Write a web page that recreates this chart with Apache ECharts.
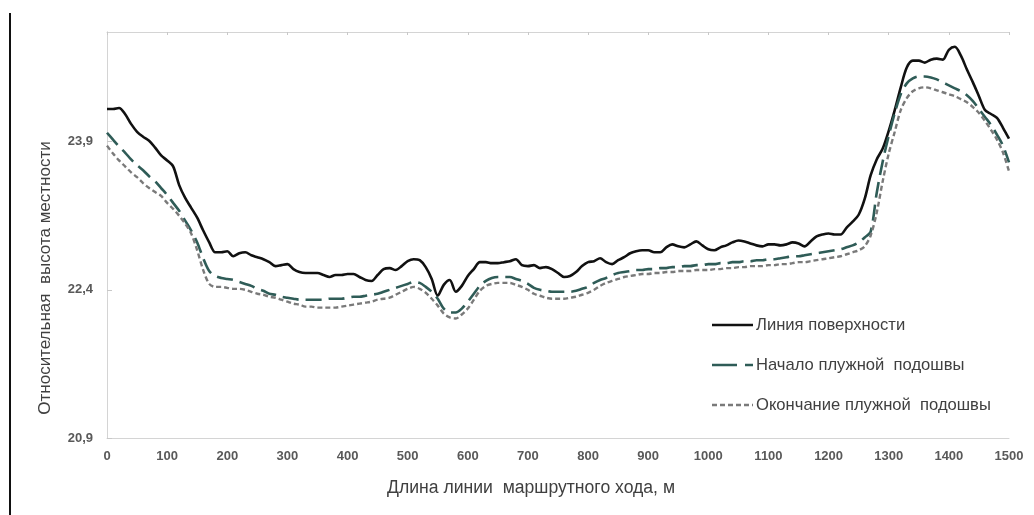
<!DOCTYPE html>
<html>
<head>
<meta charset="utf-8">
<script src="https://cdn.jsdelivr.net/npm/echarts@6/dist/echarts.min.js"></script>
<style>
html,body{margin:0;padding:0;background:#fff;}
#chart{width:1034px;height:515px;}
</style>
</head>
<body>
<div id="chart"></div>
<script>
// distance along route, m (10 m step)
const distance = [];
for (let d = 0; d <= 1500; d += 10) distance.push(d);

const surface = [
24.23,24.23,24.24,24.18,24.08,24.00,23.95,23.91,23.84,23.76,
23.71,23.65,23.46,23.33,23.23,23.13,23.00,22.88,22.78,22.78,
22.79,22.74,22.77,22.78,22.75,22.73,22.71,22.68,22.64,22.65,
22.66,22.61,22.58,22.57,22.57,22.57,22.55,22.53,22.55,22.55,
22.56,22.56,22.53,22.50,22.49,22.55,22.61,22.62,22.60,22.64,
22.69,22.71,22.70,22.63,22.51,22.34,22.45,22.50,22.38,22.44,
22.54,22.61,22.68,22.68,22.67,22.67,22.68,22.69,22.71,22.65,
22.64,22.65,22.62,22.63,22.61,22.57,22.53,22.54,22.58,22.64,
22.68,22.69,22.72,22.68,22.66,22.70,22.73,22.77,22.79,22.80,
22.80,22.78,22.78,22.83,22.86,22.84,22.83,22.86,22.89,22.85,
22.81,22.80,22.83,22.85,22.88,22.90,22.89,22.87,22.85,22.84,
22.86,22.86,22.85,22.86,22.88,22.87,22.84,22.89,22.94,22.96,
22.97,22.96,22.96,23.03,23.09,23.16,23.32,23.56,23.72,23.83,
24.01,24.22,24.45,24.65,24.72,24.72,24.70,24.73,24.74,24.73,
24.83,24.86,24.77,24.63,24.50,24.36,24.22,24.18,24.14,24.04,
23.93
];

const soleStart = [
23.99,23.92,23.85,23.79,23.72,23.66,23.61,23.55,23.50,23.43,
23.36,23.28,23.20,23.10,23.00,22.88,22.72,22.59,22.54,22.52,
22.51,22.50,22.48,22.46,22.44,22.41,22.39,22.36,22.35,22.33,
22.32,22.31,22.30,22.30,22.30,22.30,22.30,22.31,22.31,22.31,
22.32,22.33,22.33,22.34,22.35,22.36,22.38,22.40,22.42,22.44,
22.46,22.48,22.47,22.43,22.38,22.31,22.21,22.17,22.17,22.21,
22.28,22.36,22.44,22.49,22.52,22.53,22.53,22.53,22.51,22.49,
22.46,22.42,22.40,22.39,22.38,22.38,22.38,22.38,22.39,22.41,
22.43,22.47,22.50,22.52,22.55,22.57,22.58,22.59,22.60,22.60,
22.61,22.61,22.62,22.62,22.63,22.63,22.64,22.64,22.65,22.65,
22.66,22.66,22.67,22.67,22.68,22.68,22.69,22.69,22.70,22.70,
22.71,22.71,22.72,22.73,22.74,22.74,22.75,22.76,22.77,22.78,
22.79,22.80,22.81,22.83,22.85,22.88,22.93,22.99,23.38,23.70,
23.96,24.19,24.38,24.49,24.54,24.56,24.56,24.55,24.53,24.50,
24.47,24.44,24.41,24.37,24.31,24.23,24.15,24.07,23.97,23.86,
23.69
];

const soleEnd = [
23.86,23.78,23.71,23.65,23.59,23.54,23.48,23.43,23.39,23.35,
23.28,23.22,23.15,23.07,22.97,22.80,22.60,22.46,22.43,22.43,
22.42,22.41,22.41,22.40,22.38,22.36,22.35,22.33,22.32,22.30,
22.28,22.26,22.25,22.23,22.23,22.22,22.22,22.22,22.22,22.23,
22.24,22.25,22.26,22.27,22.28,22.30,22.31,22.32,22.35,22.38,
22.41,22.43,22.41,22.37,22.31,22.24,22.16,22.12,22.11,22.15,
22.21,22.30,22.39,22.44,22.46,22.47,22.47,22.47,22.45,22.43,
22.40,22.36,22.34,22.32,22.31,22.31,22.31,22.32,22.33,22.35,
22.37,22.40,22.44,22.47,22.49,22.51,22.53,22.54,22.55,22.56,
22.56,22.57,22.57,22.58,22.58,22.59,22.59,22.59,22.60,22.60,
22.60,22.61,22.61,22.62,22.62,22.63,22.63,22.64,22.64,22.64,
22.65,22.65,22.66,22.66,22.67,22.68,22.68,22.69,22.70,22.71,
22.72,22.73,22.74,22.76,22.78,22.80,22.84,22.95,23.18,23.50,
23.78,24.00,24.22,24.34,24.41,24.44,24.45,24.44,24.42,24.40,
24.38,24.36,24.33,24.30,24.25,24.19,24.11,24.02,23.92,23.79,
23.60
];

const seriesNames = ['Линия поверхности', 'Начало плужной  подошвы', 'Окончание плужной  подошвы'];
const yTicks = [20.9, 22.4, 23.9];
const xTicks = [0,100,200,300,400,500,600,700,800,900,1000,1100,1200,1300,1400,1500];

const styles = [
  {color: '#111111', width: 2.6, dash: null, legendDash: null},
  {color: '#2f5c57', width: 2.6, dash: [16, 7], legendDash: [25, 8, 8, 0]},
  {color: '#7a7a7a', width: 2.4, dash: [5, 3], legendDash: [5, 3]}
];

const pair = arr => distance.map((d, i) => [d, arr[i]]);
const fmt = v => v.toFixed(1).replace('.', ',');
const FONT = 'Liberation Sans, Arial, sans-serif';
const labelFont = {color: '#595959', fontSize: 13, fontWeight: 'bold', fontFamily: FONT};

const legendGraphics = [];
seriesNames.forEach((name, i) => {
  const yc = 325 + i * 40;
  const st = styles[i];
  legendGraphics.push({
    type: 'line', shape: {x1: 712, y1: yc, x2: 753, y2: yc},
    style: {stroke: st.color, lineWidth: st.width, lineDash: st.legendDash}
  });
  legendGraphics.push({
    type: 'text', x: 756, y: yc,
    style: {text: name, fill: '#404040', fontSize: 16.6, fontFamily: FONT, align: 'left', verticalAlign: 'middle'}
  });
});

const chart = echarts.init(document.getElementById('chart'), null, {renderer: 'canvas'});
chart.setOption({
  animation: false,
  backgroundColor: '#fff',
  grid: {left: 107, right: 25, top: 32, bottom: 77, containLabel: false},
  xAxis: [{
    type: 'value', min: 0, max: 1500, interval: 100, position: 'bottom',
    axisLine: {show: true, lineStyle: {color: '#d4d4d4', width: 1}},
    axisTick: {show: false},
    splitLine: {show: false},
    axisLabel: Object.assign({margin: 12, formatter: v => String(v), customValues: xTicks}, labelFont)
  }, {
    type: 'value', min: 0, max: 1500, interval: 100, position: 'top',
    axisLine: {show: true, lineStyle: {color: '#d4d4d4', width: 1}},
    axisTick: {show: true, inside: true, length: 3, lineStyle: {color: '#c8c8c8'}},
    axisLabel: {show: false}, splitLine: {show: false}
  }],
  yAxis: [{
    type: 'value', min: 20.9, max: 25.01, position: 'left',
    axisLine: {show: true, lineStyle: {color: '#d4d4d4', width: 1}},
    axisTick: {show: false},
    splitLine: {show: false},
    axisLabel: Object.assign({margin: 14, formatter: fmt, customValues: yTicks}, labelFont)
  }, {
    type: 'value', min: 20.9, max: 25.01, position: 'right',
    axisLine: {show: true, lineStyle: {color: '#d4d4d4', width: 1}},
    axisTick: {show: true, length: 5, customValues: yTicks, lineStyle: {color: '#c8c8c8'}},
    axisLabel: {show: false}, splitLine: {show: false}
  }],
  legend: {show: false},
  series: [surface, soleStart, soleEnd].map((arr, i) => ({
    name: seriesNames[i], type: 'line', data: pair(arr), symbol: 'none', smooth: 0.3,
    lineStyle: {color: styles[i].color, width: styles[i].width, type: styles[i].dash || 'solid'},
    itemStyle: {color: styles[i].color}
  })),
  graphic: [{
    type: 'line', shape: {x1: 10, y1: 13, x2: 10, y2: 515},
    style: {stroke: '#111', lineWidth: 2}
  }, {
    type: 'text', x: 45, y: 278, rotation: Math.PI / 2,
    style: {text: 'Относительная  высота местности', fill: '#404040', fontSize: 17,
      fontFamily: FONT, align: 'center', verticalAlign: 'middle'}
  }, {
    type: 'text', x: 531, y: 488,
    style: {text: 'Длина линии  маршрутного хода, м', fill: '#404040', fontSize: 17.6,
      fontFamily: FONT, align: 'center', verticalAlign: 'middle'}
  }].concat(legendGraphics)
});
</script>
</body>
</html>
